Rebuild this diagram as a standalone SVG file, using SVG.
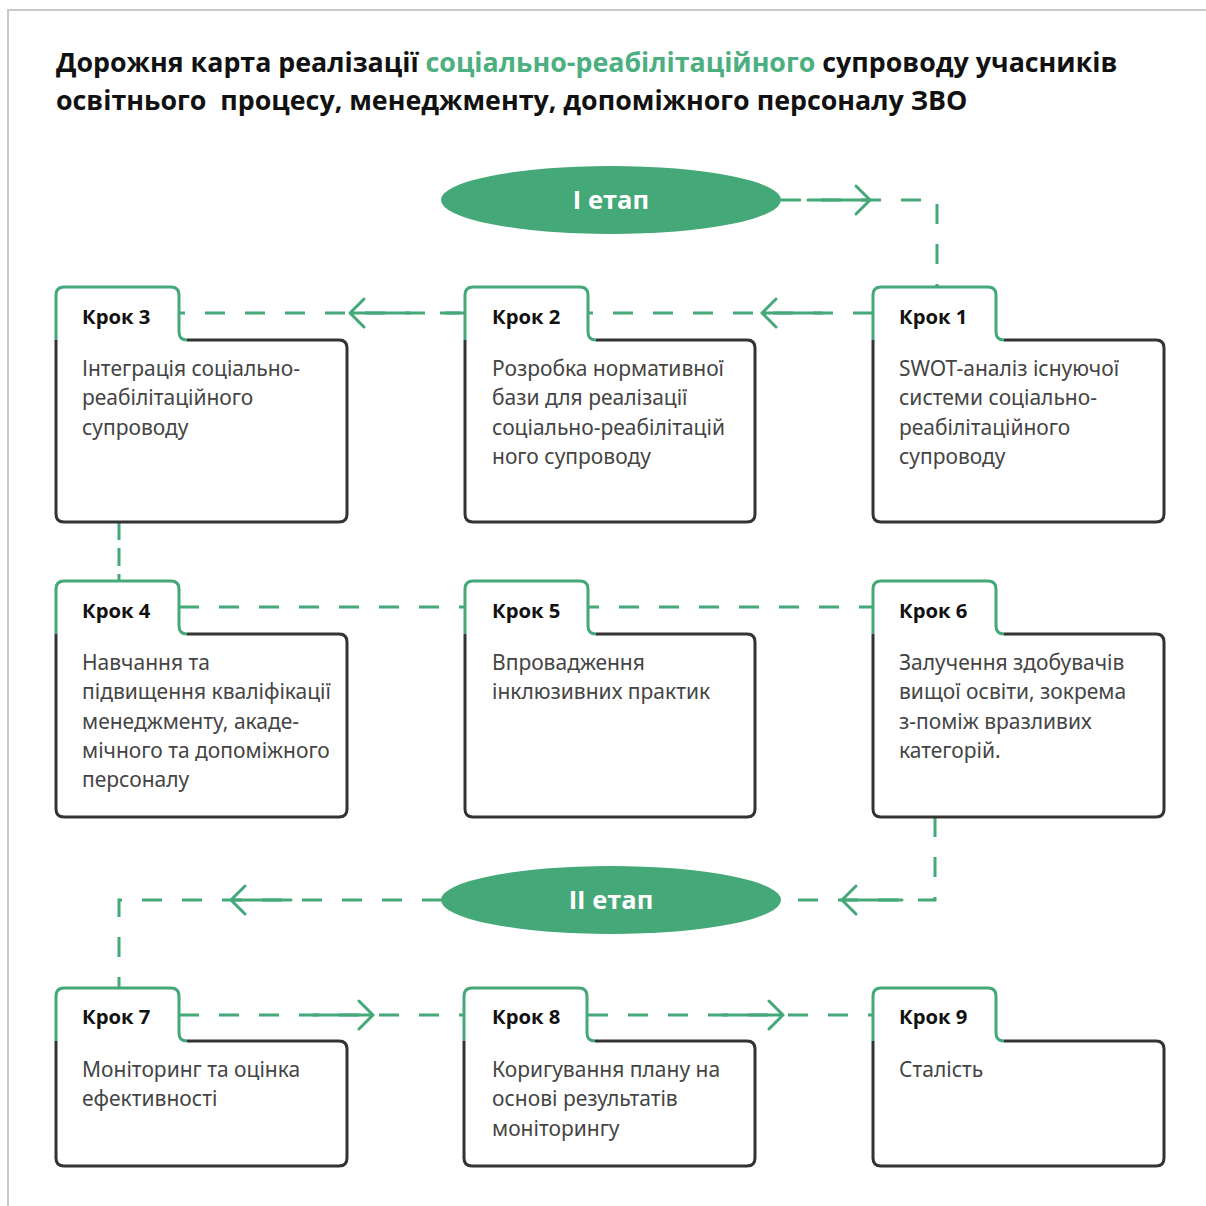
<svg xmlns="http://www.w3.org/2000/svg" width="1206" height="1206" viewBox="0 0 1206 1206">
<defs>
<style>
.bg{fill:#ffffff}
.frame{fill:none;stroke:#c8c8c8;stroke-width:2}
.title{font-family:"Open Sans","Noto Sans","Liberation Sans",sans-serif;font-weight:700;font-size:26.8px;fill:#111}
.title .g{fill:#4caf80}
.dash{fill:none;stroke:#44a878;stroke-width:3;stroke-dasharray:20 20}
.arr{fill:none;stroke:#44a878;stroke-width:3;stroke-linecap:round;stroke-linejoin:round}
.fill{fill:#ffffff;stroke:none}
.tab{fill:none;stroke:#44a878;stroke-width:3}
.body{fill:none;stroke:#333333;stroke-width:3}
.lbl{font-family:"Open Sans","Noto Sans","Liberation Sans",sans-serif;font-weight:700;font-size:20.3px;fill:#111}
.txt{font-family:"Noto Sans","Open Sans","Liberation Sans",sans-serif;font-size:21px;fill:#444}
.ell{fill:#44a878}
.etxt{font-family:"Open Sans","Noto Sans","Liberation Sans",sans-serif;font-weight:700;font-size:25.5px;fill:#ffffff;text-anchor:middle}
</style>
</defs>
<rect class="bg" x="0" y="0" width="1206" height="1206"/>
<path class="frame" d="M8,1206 V10 H1206"/>
<text class="title" x="56" y="72">Дорожня карта реалізації <tspan class="g">соціально-реабілітаційного</tspan> супроводу учасників</text>
<text class="title" x="56" y="110" xml:space="preserve">освітнього  процесу, менеджменту, допоміжного персоналу ЗВО</text>

<g id="connectors">
  <path class="dash" d="M781,200 H937 V287"/>
  <path class="arr" d="M808,200 H870 M856,186 L870,200 L856,214"/>
  <path class="dash" d="M873,313 H588"/>
  <path class="arr" d="M822,313 H762 M776,299 L762,313 L776,327"/>
  <path class="dash" d="M465,313 H179"/>
  <path class="dash" d="M440,313 H465"/>
  <path class="arr" d="M410,313 H350 M364,299 L350,313 L364,327"/>
  <path class="dash" d="M119,522 V581" style="stroke-dasharray:18 8"/>
  <path class="dash" d="M179,607 H873"/>
  <path class="dash" d="M935,817 V900 H781"/>
  <path class="arr" d="M902,900 H842 M856,886 L842,900 L856,914"/>
  <path class="dash" d="M442,900 H119 V988"/>
  <path class="arr" d="M291,900 H231 M245,886 L231,900 L245,914"/>
  <path class="dash" d="M179,1015 H463"/>
  <path class="arr" d="M313,1015 H373 M359,1001 L373,1015 L359,1029"/>
  <path class="dash" d="M588,1015 H873"/>
  <path class="arr" d="M723,1015 H783 M769,1001 L783,1015 L769,1029"/>
</g>

<g id="stage1">
  <ellipse class="ell" cx="611" cy="200" rx="170" ry="34"/>
  <text class="etxt" x="611" y="209">І етап</text>
</g>
<g id="stage2">
  <ellipse class="ell" cx="611" cy="900" rx="170" ry="34"/>
  <text class="etxt" x="611" y="909">ІІ етап</text>
</g>

<!-- Row 1 -->
<g id="step3" transform="translate(56,287)">
  <path class="fill" d="M0,53 V8 Q0,0 8,0 H115 Q123,0 123,8 V45 Q123,53 131,53 H283 Q291,53 291,61 V227 Q291,235 283,235 H8 Q0,235 0,227 Z"/>
  <path class="tab" d="M0,53 V8 Q0,0 8,0 H115 Q123,0 123,8 V45 Q123,53 131,53"/>
  <path class="body" d="M131,53 H283 Q291,53 291,61 V227 Q291,235 283,235 H8 Q0,235 0,227 V53"/>
  <text class="lbl" x="26" y="37">Крок 3</text>
  <text class="txt" x="26" y="89">Інтеграція соціально-</text>
  <text class="txt" x="26" y="118">реабілітаційного</text>
  <text class="txt" x="26" y="148">супроводу</text>
</g>
<g id="step2" transform="translate(465,287)">
  <path class="fill" d="M0,53 V8 Q0,0 8,0 H115 Q123,0 123,8 V45 Q123,53 131,53 H282 Q290,53 290,61 V227 Q290,235 282,235 H8 Q0,235 0,227 Z"/>
  <path class="tab" d="M0,53 V8 Q0,0 8,0 H115 Q123,0 123,8 V45 Q123,53 131,53"/>
  <path class="body" d="M131,53 H282 Q290,53 290,61 V227 Q290,235 282,235 H8 Q0,235 0,227 V53"/>
  <text class="lbl" x="27" y="37">Крок 2</text>
  <text class="txt" x="27" y="89">Розробка нормативної</text>
  <text class="txt" x="27" y="118">бази для реалізації</text>
  <text class="txt" x="27" y="148">соціально-реабілітацій</text>
  <text class="txt" x="27" y="177">ного супроводу</text>
</g>
<g id="step1" transform="translate(873,287)">
  <path class="fill" d="M0,53 V8 Q0,0 8,0 H115 Q123,0 123,8 V45 Q123,53 131,53 H283 Q291,53 291,61 V227 Q291,235 283,235 H8 Q0,235 0,227 Z"/>
  <path class="tab" d="M0,53 V8 Q0,0 8,0 H115 Q123,0 123,8 V45 Q123,53 131,53"/>
  <path class="body" d="M131,53 H283 Q291,53 291,61 V227 Q291,235 283,235 H8 Q0,235 0,227 V53"/>
  <text class="lbl" x="26" y="37">Крок 1</text>
  <text class="txt" x="26" y="89">SWOT-аналіз існуючої</text>
  <text class="txt" x="26" y="118">системи соціально-</text>
  <text class="txt" x="26" y="148">реабілітаційного</text>
  <text class="txt" x="26" y="177">супроводу</text>
</g>

<!-- Row 2 -->
<g id="step4" transform="translate(56,581)">
  <path class="fill" d="M0,53 V8 Q0,0 8,0 H115 Q123,0 123,8 V45 Q123,53 131,53 H283 Q291,53 291,61 V228 Q291,236 283,236 H8 Q0,236 0,228 Z"/>
  <path class="tab" d="M0,53 V8 Q0,0 8,0 H115 Q123,0 123,8 V45 Q123,53 131,53"/>
  <path class="body" d="M131,53 H283 Q291,53 291,61 V228 Q291,236 283,236 H8 Q0,236 0,228 V53"/>
  <text class="lbl" x="26" y="37">Крок 4</text>
  <text class="txt" x="26" y="89">Навчання та</text>
  <text class="txt" x="26" y="118">підвищення кваліфікації</text>
  <text class="txt" x="26" y="148">менеджменту, акаде-</text>
  <text class="txt" x="26" y="177">мічного та допоміжного</text>
  <text class="txt" x="26" y="206">персоналу</text>
</g>
<g id="step5" transform="translate(465,581)">
  <path class="fill" d="M0,53 V8 Q0,0 8,0 H115 Q123,0 123,8 V45 Q123,53 131,53 H282 Q290,53 290,61 V228 Q290,236 282,236 H8 Q0,236 0,228 Z"/>
  <path class="tab" d="M0,53 V8 Q0,0 8,0 H115 Q123,0 123,8 V45 Q123,53 131,53"/>
  <path class="body" d="M131,53 H282 Q290,53 290,61 V228 Q290,236 282,236 H8 Q0,236 0,228 V53"/>
  <text class="lbl" x="27" y="37">Крок 5</text>
  <text class="txt" x="27" y="89">Впровадження</text>
  <text class="txt" x="27" y="118">інклюзивних практик</text>
</g>
<g id="step6" transform="translate(873,581)">
  <path class="fill" d="M0,53 V8 Q0,0 8,0 H115 Q123,0 123,8 V45 Q123,53 131,53 H283 Q291,53 291,61 V228 Q291,236 283,236 H8 Q0,236 0,228 Z"/>
  <path class="tab" d="M0,53 V8 Q0,0 8,0 H115 Q123,0 123,8 V45 Q123,53 131,53"/>
  <path class="body" d="M131,53 H283 Q291,53 291,61 V228 Q291,236 283,236 H8 Q0,236 0,228 V53"/>
  <text class="lbl" x="26" y="37">Крок 6</text>
  <text class="txt" x="26" y="89">Залучення здобувачів</text>
  <text class="txt" x="26" y="118">вищої освіти, зокрема</text>
  <text class="txt" x="26" y="148">з-поміж вразливих</text>
  <text class="txt" x="26" y="177">категорій.</text>
</g>

<!-- Row 3 -->
<g id="step7" transform="translate(56,988)">
  <path class="fill" d="M0,53 V8 Q0,0 8,0 H115 Q123,0 123,8 V45 Q123,53 131,53 H283 Q291,53 291,61 V170 Q291,178 283,178 H8 Q0,178 0,170 Z"/>
  <path class="tab" d="M0,53 V8 Q0,0 8,0 H115 Q123,0 123,8 V45 Q123,53 131,53"/>
  <path class="body" d="M131,53 H283 Q291,53 291,61 V170 Q291,178 283,178 H8 Q0,178 0,170 V53"/>
  <text class="lbl" x="26" y="36">Крок 7</text>
  <text class="txt" x="26" y="89">Моніторинг та оцінка</text>
  <text class="txt" x="26" y="118">ефективності</text>
</g>
<g id="step8" transform="translate(464,988)">
  <path class="fill" d="M0,53 V8 Q0,0 8,0 H115 Q123,0 123,8 V45 Q123,53 131,53 H283 Q291,53 291,61 V170 Q291,178 283,178 H8 Q0,178 0,170 Z"/>
  <path class="tab" d="M0,53 V8 Q0,0 8,0 H115 Q123,0 123,8 V45 Q123,53 131,53"/>
  <path class="body" d="M131,53 H283 Q291,53 291,61 V170 Q291,178 283,178 H8 Q0,178 0,170 V53"/>
  <text class="lbl" x="28" y="36">Крок 8</text>
  <text class="txt" x="28" y="89">Коригування плану на</text>
  <text class="txt" x="28" y="118">основі результатів</text>
  <text class="txt" x="28" y="148">моніторингу</text>
</g>
<g id="step9" transform="translate(873,988)">
  <path class="fill" d="M0,53 V8 Q0,0 8,0 H115 Q123,0 123,8 V45 Q123,53 131,53 H283 Q291,53 291,61 V170 Q291,178 283,178 H8 Q0,178 0,170 Z"/>
  <path class="tab" d="M0,53 V8 Q0,0 8,0 H115 Q123,0 123,8 V45 Q123,53 131,53"/>
  <path class="body" d="M131,53 H283 Q291,53 291,61 V170 Q291,178 283,178 H8 Q0,178 0,170 V53"/>
  <text class="lbl" x="26" y="36">Крок 9</text>
  <text class="txt" x="26" y="89">Сталість</text>
</g>
</svg>
